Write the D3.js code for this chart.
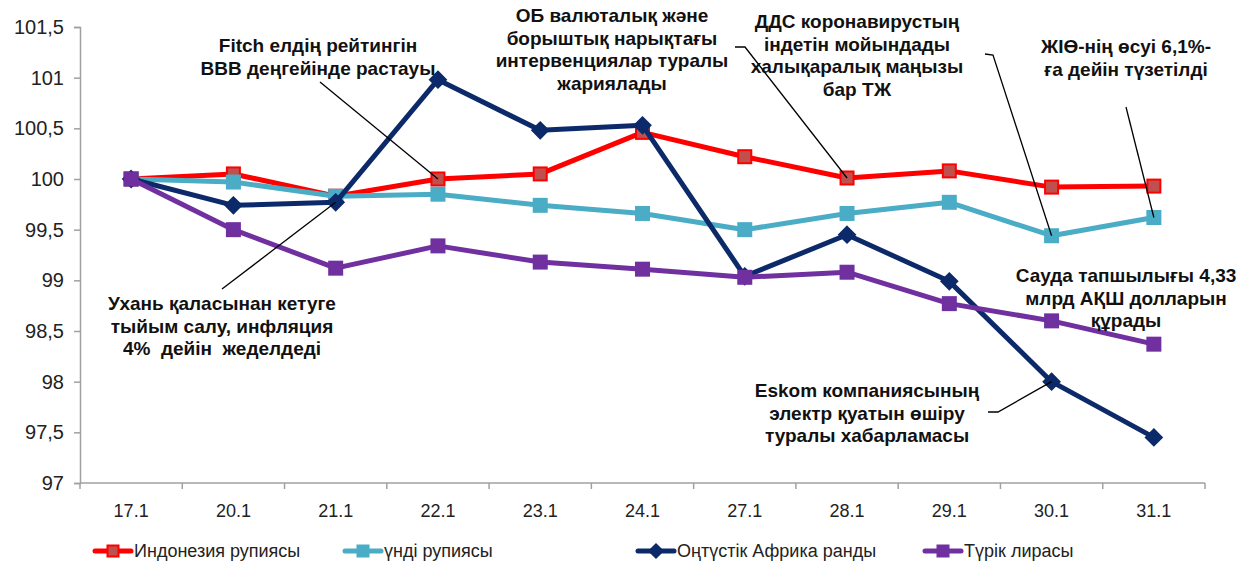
<!DOCTYPE html>
<html>
<head>
<meta charset="utf-8">
<script src="https://cdn.jsdelivr.net/npm/d3@7"></script>
<style>
  body { margin: 0; background: #fff; }
  svg { font-family: "Liberation Sans", Arial, sans-serif; }
</style>
</head>
<body>
<svg id="chart" width="1242" height="563"></svg>
<script>
// даталар
const dates = ["17.1", "20.1", "21.1", "22.1", "23.1", "24.1", "27.1", "28.1", "29.1", "30.1", "31.1"];
const indonesia = [100, 100.05, 99.83, 100.0, 100.05, 100.46, 100.22, 100.01, 100.08, 99.92, 99.93];
const india = [100, 99.97, 99.83, 99.85, 99.74, 99.66, 99.5, 99.66, 99.77, 99.44, 99.62];
const southAfrica = [100, 99.74, 99.77, 100.98, 100.48, 100.53, 99.04, 99.45, 98.99, 98.0, 97.45];
const turkey = [100, 99.5, 99.12, 99.34, 99.18, 99.11, 99.03, 99.08, 98.77, 98.6, 98.37];
const yTicks = [97, 97.5, 98, 98.5, 99, 99.5, 100, 100.5, 101, 101.5];

const series = [
  { name: "Индонезия рупиясы", values: indonesia, color: "#ff0000", fill: "#c0504d", shape: "square" },
  { name: "үнді рупиясы", values: india, color: "#4bacc6", fill: "#4bacc6", shape: "square" },
  { name: "Оңтүстік Африка ранды", values: southAfrica, color: "#0c2a6a", fill: "#0c2a6a", shape: "diamond" },
  { name: "Түрік лирасы", values: turkey, color: "#7030a0", fill: "#7030a0", shape: "square" }
];

// аннотациялар: мәтін, орталық x, бірінші жолдың y, сілтеме сызығы (дата индексі, серия)
const notes = [
  { lines: ["Fitch елдің рейтингін", "ВВВ деңгейінде растауы"], x: 318, y: 52,
    from: [320, 82], to: { i: 3, s: 0 } },
  { lines: ["ОБ валюталық және", "борыштық нарықтағы", "интервенциялар туралы", "жариялады"], x: 612, y: 22 },
  { lines: ["ДДС коронавирустың", "індетін мойындады", "халықаралық маңызы", "бар ТЖ"], x: 857, y: 28 ,
    from: [735, 47], elbow: [745, 47], to: { i: 7, s: 0 } },
  { lines: ["ЖІӨ-нің өсуі 6,1%-", "ға дейін түзетілді"], x: 1126, y: 53,
    from: [985, 54], elbow: [993, 55], to: { i: 9, s: 1 } },
  { lines: [], from: [1126, 107], to: { i: 10, s: 1 } },
  { lines: ["Ухань қаласынан кетуге", "тыйым салу, инфляция", "4%  дейін  жеделдеді"], x: 222, y: 310,
    from: [222, 289], to: { i: 2, s: 2 } },
  { lines: ["Eskom компаниясының", "электр қуатын өшіру", "туралы хабарламасы"], x: 867, y: 397,
    from: [988, 412], elbow: [998, 412], to: { i: 9, s: 2 } },
  { lines: ["Сауда тапшылығы 4,33", "млрд АҚШ долларын", "құрады"], x: 1126, y: 282 }
];

const svg = d3.select("#chart");
const mLeft = 80, mRight = 1205, mTop = 27, mBottom = 483;

const x = d3.scaleBand().domain(dates).range([mLeft, mRight]);
const y = d3.scaleLinear().domain([97, 101.5]).range([mBottom, mTop]);
const cx = d => x(d) + x.bandwidth() / 2;

// Y осі
const yAxis = svg.append("g")
  .attr("transform", `translate(${mLeft},0)`)
  .call(d3.axisLeft(y).tickValues(yTicks).tickSize(6).tickPadding(10)
    .tickFormat(d => String(d).replace(".", ",")));
yAxis.selectAll("line, path").attr("stroke", "#a0a0a0").attr("stroke-width", 1.5);
yAxis.selectAll("text").attr("font-size", 20).attr("fill", "#222")
  .attr("font-family", "Liberation Sans, Arial, sans-serif");

// X осі
const xAxis = svg.append("g").attr("transform", `translate(0,${mBottom})`);
xAxis.append("line").attr("x1", mLeft).attr("x2", mRight).attr("stroke", "#a0a0a0").attr("stroke-width", 1.5);
xAxis.selectAll("line.tick").data(d3.range(dates.length + 1)).enter().append("line")
  .attr("class", "tick")
  .attr("x1", i => mLeft + i * x.step()).attr("x2", i => mLeft + i * x.step())
  .attr("y1", 0).attr("y2", 6).attr("stroke", "#a0a0a0").attr("stroke-width", 1.5);
xAxis.selectAll("text").data(dates).enter().append("text")
  .attr("x", d => cx(d)).attr("y", 34).attr("text-anchor", "middle")
  .attr("font-size", 18).attr("fill", "#222").text(d => d);

// сызықтар
const line = d3.line().x((v, i) => cx(dates[i])).y(v => y(v));

function marker(g, shape, px, py, s, size) {
  if (shape === "diamond") {
    const h = size * 0.64;
    g.append("path")
      .attr("d", `M${px},${py - h}L${px + h},${py}L${px},${py + h}L${px - h},${py}Z`)
      .attr("fill", s.fill).attr("stroke", s.color).attr("stroke-width", 1.5);
  } else {
    g.append("rect")
      .attr("x", px - size / 2).attr("y", py - size / 2)
      .attr("width", size).attr("height", size)
      .attr("fill", s.fill).attr("stroke", s.color).attr("stroke-width", 2);
  }
}

series.forEach(s => {
  const g = svg.append("g");
  g.append("path").datum(s.values).attr("d", line)
    .attr("fill", "none").attr("stroke", s.color).attr("stroke-width", 5)
    .attr("stroke-linejoin", "round");
  s.values.forEach((v, i) => marker(g, s.shape, cx(dates[i]), y(v), s, 13));
});

// аннотациялар
notes.forEach(n => {
  if (n.from) {
    const t = n.to;
    const pts = [n.from];
    if (n.elbow) pts.push(n.elbow);
    pts.push([cx(dates[t.i]), y(series[t.s].values[t.i])]);
    svg.append("path").attr("d", d3.line()(pts))
      .attr("fill", "none").attr("stroke", "#000").attr("stroke-width", 1.3);
  }
  const txt = svg.append("text").attr("text-anchor", "middle")
    .attr("font-size", 19).attr("font-weight", "bold").attr("fill", "#111")
    .style("white-space", "pre");
  n.lines.forEach((l, k) => {
    txt.append("tspan").attr("x", n.x).attr("y", n.y + k * 22.7).text(l);
  });
});

// аңыз
const legendX = [95, 345, 638, 925];
series.forEach((s, i) => {
  const g = svg.append("g").attr("transform", `translate(${legendX[i]},551)`);
  g.append("line").attr("x1", 0).attr("x2", 36).attr("y1", 0).attr("y2", 0)
    .attr("stroke", s.color).attr("stroke-width", 5).attr("stroke-linecap", "round");
  marker(g, s.shape, 18, 0, s, 11);
  g.append("text").attr("x", 39).attr("y", 6).attr("font-size", 18).attr("fill", "#222").text(s.name);
});
</script>
</body>
</html>
